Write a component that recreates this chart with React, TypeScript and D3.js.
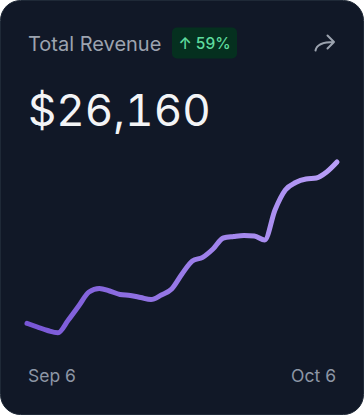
import { useEffect, useRef } from "react";
import * as d3 from "d3";

const WIDTH = 364;
const HEIGHT = 416;

// daily revenue, Sep 6 -> Oct 6
const days = d3.timeDay.range(new Date(2024, 8, 6), new Date(2024, 9, 7));
const revenue = [
  167, 130, 95, 73, 200, 340, 480, 515, 490, 455, 445, 425, 405, 450, 510, 660,
  790, 827, 910, 1020, 1035, 1045, 1040, 1000, 1300, 1500, 1575, 1610, 1620, 1680, 1780,
];
const startLabel = "Sep 6";
const endLabel = "Oct 6";
const title = "Total Revenue";
const change = "↑ 59%";
const total = "$26,160";

const FONT = "Inter, 'Noto Sans', sans-serif";

export default function App() {
  const svgRef = useRef<SVGSVGElement>(null);

  useEffect(() => {
    document.body.style.margin = "0";
    const svg = d3.select(svgRef.current);
    svg.selectAll("*").remove();

    const defs = svg.append("defs");
    const grad = defs
      .append("linearGradient")
      .attr("id", "lineGrad")
      .attr("x1", "0%")
      .attr("x2", "100%")
      .attr("y1", "0%")
      .attr("y2", "0%");
    grad.append("stop").attr("offset", "0%").attr("stop-color", "#7856d6");
    grad.append("stop").attr("offset", "100%").attr("stop-color", "#b99ff8");

    // card
    svg
      .append("rect")
      .attr("x", 0.5)
      .attr("y", 0.5)
      .attr("width", WIDTH - 1)
      .attr("height", 414)
      .attr("rx", 20)
      .attr("fill", "#111827")
      .attr("stroke", "#1f2937");

    // header
    svg
      .append("text")
      .attr("x", 28)
      .attr("y", 51)
      .attr("font-family", FONT)
      .attr("font-size", 20)
      .attr("fill", "#9ca3af")
      .text(title);

    svg
      .append("rect")
      .attr("x", 172)
      .attr("y", 27.5)
      .attr("width", 65)
      .attr("height", 31)
      .attr("rx", 5)
      .attr("fill", "#05301f");
    svg
      .append("text")
      .attr("x", 204.5)
      .attr("y", 49)
      .attr("text-anchor", "middle")
      .attr("font-family", FONT)
      .attr("font-size", 15.5)
      .attr("font-weight", 500)
      .attr("fill", "#5fdc9e")
      .text(change);

    // share arrow
    svg
      .append("path")
      .attr("d", "M315.5 50.5 Q317 42 334 42 M327.5 35.5 L334 42 L327.5 48.5")
      .attr("fill", "none")
      .attr("stroke", "#9ca3af")
      .attr("stroke-width", 2)
      .attr("stroke-linecap", "round")
      .attr("stroke-linejoin", "round");

    svg
      .append("text")
      .attr("x", 28)
      .attr("y", 126)
      .attr("font-family", FONT)
      .attr("font-size", 44)
      .attr("fill", "#f3f4f6")
      .style("font-variant-numeric", "tabular-nums")
      .text(total);

    // line
    const x = d3
      .scaleTime()
      .domain(d3.extent(days) as [Date, Date])
      .range([27, 337]);
    const y = d3.scaleLinear().domain([0, 1800]).range([340, 160]);

    const line = d3
      .line<number>()
      .x((_, i) => x(days[i]))
      .y((d) => y(d))
      .curve(d3.curveMonotoneX);

    svg
      .append("path")
      .datum(revenue)
      .attr("d", line)
      .attr("fill", "none")
      .attr("stroke", "url(#lineGrad)")
      .attr("stroke-width", 5)
      .attr("stroke-linecap", "round")
      .attr("stroke-linejoin", "round");

    // date labels
    svg
      .append("text")
      .attr("x", 28)
      .attr("y", 382)
      .attr("font-family", FONT)
      .attr("font-size", 17.5)
      .attr("fill", "#8d96a5")
      .text(startLabel);
    svg
      .append("text")
      .attr("x", 336)
      .attr("y", 382)
      .attr("text-anchor", "end")
      .attr("font-family", FONT)
      .attr("font-size", 17.5)
      .attr("fill", "#8d96a5")
      .text(endLabel);
  }, []);

  return <svg ref={svgRef} width={WIDTH} height={HEIGHT} style={{ display: "block" }} />;
}
